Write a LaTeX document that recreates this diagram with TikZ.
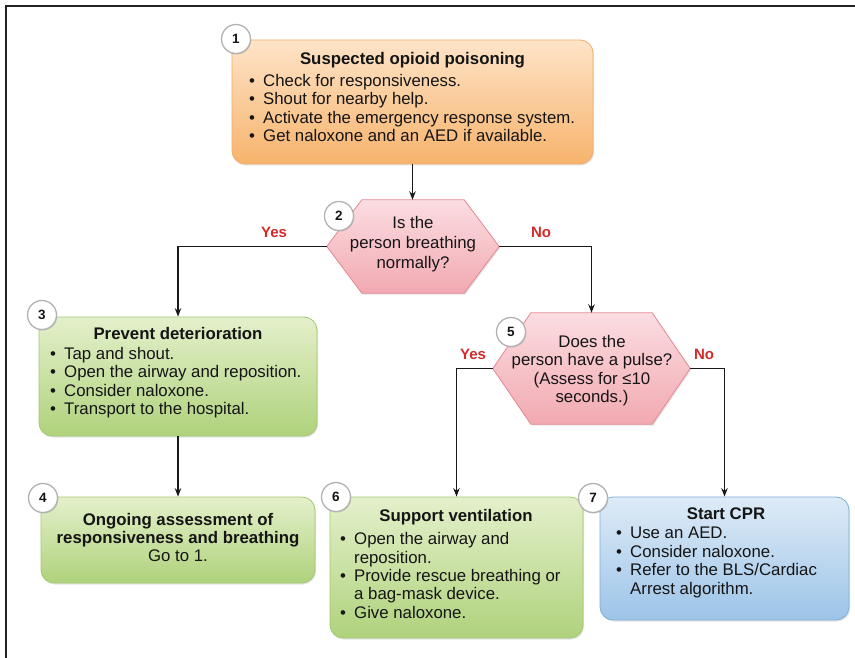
\documentclass[tikz,border=0pt]{standalone}
\usepackage{fontspec}
\setmainfont{Liberation Sans}
\usetikzlibrary{arrows.meta,shadows}
\definecolor{txtc}{HTML}{151515}
\definecolor{otop}{HTML}{FEE4C8}
\definecolor{obot}{HTML}{F7B36C}
\definecolor{obrd}{HTML}{F0AE6A}
\definecolor{gtop}{HTML}{E4F0CB}
\definecolor{gbot}{HTML}{AFD27C}
\definecolor{gbrd}{HTML}{A2C872}
\definecolor{btop}{HTML}{DEEBF7}
\definecolor{bbot}{HTML}{9CC4E8}
\definecolor{bbrd}{HTML}{7EAEDA}
\definecolor{ptop}{HTML}{FBDDE1}
\definecolor{pbot}{HTML}{F2A9B1}
\definecolor{pbrd}{HTML}{E68893}
\definecolor{ynred}{HTML}{D42A2A}
\definecolor{frm}{HTML}{222222}
\newcommand{\bl}{\makebox[14pt][l]{•}}
\newcommand{\fsz}{\fontsize{16.8}{18.4}\selectfont}
\begin{document}
\begin{tikzpicture}[x=1pt,y=-1pt,
  every node/.style={inner sep=0pt, text=txtc},
  box/.style={rounded corners=13pt, line width=0.8pt,
    drop shadow={opacity=0.22, shadow xshift=1pt, shadow yshift=-1.5pt}},
  obox/.style={box, draw=obrd, top color=otop, bottom color=obot},
  gbox/.style={box, draw=gbrd, top color=gtop, bottom color=gbot},
  bbox/.style={box, draw=bbrd, top color=btop, bottom color=bbot},
  hexbase/.style={rectangle, inner sep=0pt},
  hexfill/.style={draw=pbrd, line width=0.8pt, top color=ptop, bottom color=pbot,
    drop shadow={opacity=0.22, shadow xshift=1pt, shadow yshift=-1.5pt}},
  num/.style={circle, draw=gray!60, line width=1.3pt, fill=white, minimum size=29pt,
    font=\bfseries\fontsize{13.5}{13.5}\selectfont,
    drop shadow={opacity=0.3, shadow xshift=0.8pt, shadow yshift=-1pt}},
  ttl/.style={font=\fsz\bfseries},
  blk/.style={font=\fsz, align=left},
  yn/.style={font=\bfseries\fontsize{15}{15}\selectfont, text=ynred},
  arr/.style={-{Stealth[length=8.5pt,width=6.5pt]}, line width=1.3pt, draw=black!90}
]
\useasboundingbox (0,0) rectangle (855,658);
\draw[frm, line width=2.4pt] (855,6) -- (6,6) -- (6,658);

% boxes
\node[obox, minimum width=361pt, minimum height=124pt] (b1) at (412.5,102) {};
\node[gbox, minimum width=278pt, minimum height=119pt] (b3) at (178,376.5) {};
\node[gbox, minimum width=274pt, minimum height=86pt] (b4) at (178,540) {};
\node[gbox, minimum width=253pt, minimum height=141pt] (b6) at (456.5,567.5) {};
\node[bbox, minimum width=249pt, minimum height=123pt] (b7) at (724.5,558.5) {};

% decisions
\node[hexbase, minimum width=172pt, minimum height=93pt] (d2) at (413,246.5) {};
\path[hexfill] (d2.west) -- ([xshift=35pt]d2.north west) -- ([xshift=-35pt]d2.north east)
  -- (d2.east) -- ([xshift=-35pt]d2.south east) -- ([xshift=35pt]d2.south west) -- cycle;
\node[hexbase, minimum width=197pt, minimum height=111pt] (d5) at (591.5,368.5) {};
\path[hexfill] (d5.west) -- ([xshift=38pt]d5.north west) -- ([xshift=-38pt]d5.north east)
  -- (d5.east) -- ([xshift=-38pt]d5.south east) -- ([xshift=38pt]d5.south west) -- cycle;

% connectors
\draw[arr] (b1.south) -- (b1.south |- d2.north);
\draw[arr] (d2.west) -| (b3.north);
\draw[arr] (d2.east) -| (d5.north);
\draw[arr] (b3.south) -- (b4.north);
\draw[arr] (d5.west) -| (b6.north);
\draw[arr] (d5.east) -| (b7.north);

% labels
\node[yn] (y2) at (274,232) {Yes};
\node[yn] (n2) at (541,232) {No};
\node[yn] (y5) at (473,354) {Yes};
\node[yn] (n5) at (704,354) {No};

% texts
\node[ttl] (t1h) at (412.5,60) {Suspected opioid poisoning};
\node[blk, anchor=west] (t1b) at (249,108) {\bl Check for responsiveness.\\ \bl Shout for nearby help.\\ \bl Activate the emergency response system.\\ \bl Get naloxone and an AED if available.};

\node[blk, align=center, font=\fontsize{16.8}{20}\selectfont] (t2) at (413,244) {Is the\\ person breathing\\ normally?};

\node[ttl] (t3h) at (178,333) {Prevent deterioration};
\node[blk, anchor=west] (t3b) at (50,382.5) {\bl Tap and shout.\\ \bl Open the airway and reposition.\\ \bl Consider naloxone.\\ \bl Transport to the hospital.};

\node[blk, align=center] (t4) at (178,537.5) {\textbf{Ongoing assessment of}\\ \textbf{responsiveness and breathing}\\ Go to 1.};

\node[blk, align=center] (t5) at (592,370.5) {Does the\\ person have a pulse?\\ (Assess for ≤10\\ seconds.)};

\node[ttl] (t6h) at (456,517) {Support ventilation};
\node[blk, anchor=west] (t6b) at (340,575.5) {\bl Open the airway and\\ \hspace*{14pt}reposition.\\ \bl Provide rescue breathing or\\ \hspace*{14pt}a bag-mask device.\\ \bl Give naloxone.};

\node[ttl] (t7h) at (726,514) {Start CPR};
\node[blk, anchor=west] (t7b) at (616,562.5) {\bl Use an AED.\\ \bl Consider naloxone.\\ \bl Refer to the BLS/Cardiac\\ \hspace*{14pt}Arrest algorithm.};

% step numbers
\node[num] (c1) at (236,39) {1};
\node[num] (c2) at (339,216) {2};
\node[num] (c3) at (42,315) {3};
\node[num] (c4) at (43,498) {4};
\node[num] (c5) at (511,332) {5};
\node[num] (c6) at (336,497) {6};
\node[num] (c7) at (593,498) {7};
\end{tikzpicture}
\end{document}
